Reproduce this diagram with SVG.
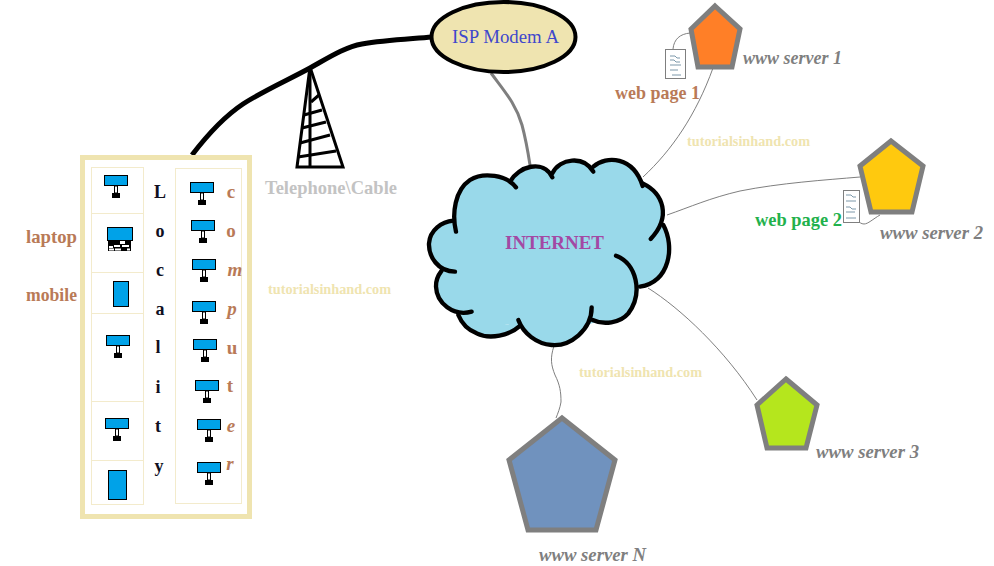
<svg xmlns="http://www.w3.org/2000/svg" xmlns:xlink="http://www.w3.org/1999/xlink" width="994" height="566" viewBox="0 0 994 566">
<style>
text{font-family:"Liberation Serif",serif;font-size:19px}
.br{fill:#b97a57;font-weight:bold}
.gr{fill:#7f7f7f;font-weight:bold;font-style:italic}
.wm{fill:#efe4b0;font-size:15px;font-weight:bold}
.loc{fill:#10101f;font-weight:bold;text-anchor:middle;font-size:18px}
.let{fill:#b97a57;font-weight:bold;text-anchor:middle;font-size:19px}
.it{font-style:italic}
.thin{fill:none;stroke:#7f7f7f;stroke-width:1}
.pent{stroke:#7f7f7f;stroke-width:5;stroke-linejoin:miter}
.cell{fill:#fff;stroke:#f3ebcc;stroke-width:1}
.blue{fill:#00a2e8;stroke:#000;stroke-width:1}
.cl{fill:none;stroke:#000;stroke-width:13;stroke-linecap:round}
.doc{fill:#fff;stroke:#7f7f7f;stroke-width:1}
.sq{fill:none;stroke:#5b7f95;stroke-width:.8}
</style>
<defs>
<g id="pc">
<rect class="blue" x="0.5" y="0.5" width="23" height="10"/>
<rect x="10.5" y="11" width="3" height="7" fill="#fff" stroke="#000"/>
<rect x="8" y="18" width="8" height="5" fill="#000"/>
</g>
</defs>
<rect width="994" height="566" fill="#fff"/>

<g id="connectors">
<path d="M192,155C205,138 222,118 243,104C263,91 290,79 310,68C328,58 345,47 362,44C385,40 410,39 432,37" fill="none" stroke="#000" stroke-width="5"/>
<path d="M491,73C505,92 516,104 522,125C526,140 528,152 530,165" fill="none" stroke="#7f7f7f" stroke-width="3"/>
<path class="thin" d="M643,177C672,150 696,115 713,68"/>
<path class="thin" d="M690,33C680,34 674,39 673,49"/>
<path class="thin" d="M667,215C690,207 710,198 740,191C780,183 825,180 860,177"/>
<path class="thin" d="M880,215C873,219 868,224 864,224C861,224 860,222 858,222"/>
<path class="thin" d="M648,288C680,308 725,350 757,400"/>
<path class="thin" d="M554,346C550,358 551,365 555,375C560,385 561,392 561,402C560,408 558,413 556,418"/>
</g>

<g id="locality">
<rect x="82.500" y="157.500" width="167" height="359" fill="#fff" stroke="#efe4b0" stroke-width="5"/>
<rect class="cell" x="91.500" y="167.500" width="52" height="337"/>
<path d="M91.500,213.500H143.500M91.500,272.500H143.500M91.500,313.500H143.500M91.500,401.500H143.500M91.500,460.500H143.500" stroke="#f3ebcc" fill="none"/>
<rect class="cell" x="175.500" y="168.500" width="66" height="335"/>
<use xlink:href="#pc" href="#pc" x="104" y="175"/>
<use xlink:href="#pc" href="#pc" x="106" y="335"/>
<use xlink:href="#pc" href="#pc" x="105" y="418"/>
<use xlink:href="#pc" href="#pc" x="190" y="182"/>
<use xlink:href="#pc" href="#pc" x="191" y="220"/>
<use xlink:href="#pc" href="#pc" x="192" y="259"/>
<use xlink:href="#pc" href="#pc" x="192" y="301"/>
<use xlink:href="#pc" href="#pc" x="193" y="339"/>
<use xlink:href="#pc" href="#pc" x="195" y="380"/>
<use xlink:href="#pc" href="#pc" x="197" y="419"/>
<use xlink:href="#pc" href="#pc" x="197" y="462"/>
<g id="laptop-icon">
<rect class="blue" x="107.500" y="227.500" width="25" height="13"/>
<rect x="108" y="241" width="23" height="10" fill="#000"/>
<rect x="120" y="241" width="5" height="3" fill="#fff"/>
<rect x="109" y="246" width="4" height="2" fill="#fff"/>
<rect x="114" y="245" width="6" height="2" fill="#fff"/>
<rect x="109" y="248.500" width="5" height="2" fill="#fff"/>
<rect x="115" y="248.500" width="6" height="2" fill="#fff"/>
<rect x="122" y="245" width="7" height="2" fill="#fff"/>
<rect x="127" y="248.500" width="3" height="2" fill="#fff"/>
</g>
<rect class="blue" x="113.500" y="281.500" width="15" height="25"/>
<rect class="blue" x="108.500" y="470.500" width="18" height="29"/>
<text class="loc" x="160" y="198">L</text>
<text class="loc" x="160" y="237">o</text>
<text class="loc" x="160" y="276">c</text>
<text class="loc" x="160" y="315">a</text>
<text class="loc" x="158" y="353">l</text>
<text class="loc" x="158" y="393">i</text>
<text class="loc" x="158" y="432">t</text>
<text class="loc" x="159" y="472">y</text>
<text class="let" x="231" y="198">c</text>
<text class="let" x="231" y="237">o</text>
<text class="let it" x="235" y="276">m</text>
<text class="let it" x="232" y="315">p</text>
<text class="let" x="232" y="354">u</text>
<text class="let" x="230" y="392">t</text>
<text class="let it" x="231" y="432">e</text>
<text class="let it" x="230" y="470">r</text>
</g>
<text class="br" x="26" y="243" textLength="51" lengthAdjust="spacingAndGlyphs">laptop</text>
<text class="br" x="26" y="301" textLength="51" lengthAdjust="spacingAndGlyphs">mobile</text>

<g id="tower" fill="none" stroke="#000" stroke-width="3">
<path d="M310,67L297,167H343Z"/>
<path d="M310,67V167"/>
<path d="M298,157L336,151M300,143L330,135M302,128L326,122M304,115L322,110M311,102L319,95"/>
<text x="265" y="194" fill="#c3c3c3" stroke="none" font-weight="bold" textLength="132" lengthAdjust="spacingAndGlyphs">Telephone\Cable</text>
</g>

<g id="modem">
<ellipse cx="503.500" cy="37" rx="72" ry="35" fill="#efe4b0" stroke="#000" stroke-width="4"/>
<text x="452" y="43" fill="#3f48cc" textLength="107" lengthAdjust="spacingAndGlyphs">ISP Modem A</text>
</g>

<g id="internet">
<g transform="translate(420,150) scale(.33333)">
<path fill="#99d9ea" d="M108,245C95,190 105,120 150,90C190,65 260,75 288,112ZM270,95C295,50 370,25 397,82ZM397,70C420,25 490,15 520,65ZM520,50C560,15 640,20 668,108ZM668,100C730,130 755,200 692,267ZM730,225C765,290 750,395 660,410ZM588,317C650,340 670,430 625,490C600,520 550,525 518,510ZM515,472C515,540 450,590 395,585C350,582 310,550 295,510ZM297,530C270,555 210,570 170,550C145,540 125,520 115,495ZM155,485C100,500 50,460 48,410C47,390 55,375 65,362ZM105,365C55,365 25,320 27,280C30,240 65,215 100,212ZM100,212L270,95L397,70L520,50L668,100L730,225L660,410L620,500L515,520L395,585L297,530L115,495L65,362Z"/>
<path class="cl" d="M108,245C95,190 105,120 150,90C190,65 260,75 288,112"/>
<path class="cl" d="M270,95C295,50 370,25 397,82"/>
<path class="cl" d="M397,70C420,25 490,15 520,65"/>
<path class="cl" d="M520,50C560,15 640,20 668,108"/>
<path class="cl" d="M668,100C730,130 755,200 692,267"/>
<path class="cl" d="M730,225C765,290 750,395 660,410"/>
<path class="cl" d="M588,317C650,340 670,430 625,490C600,520 550,525 518,510"/>
<path class="cl" d="M515,472C515,540 450,590 395,585C350,582 310,550 295,510"/>
<path class="cl" d="M297,530C270,555 210,570 170,550C145,540 125,520 115,495"/>
<path class="cl" d="M155,485C100,500 50,460 48,410C47,390 55,375 65,362"/>
<path class="cl" d="M105,365C55,365 25,320 27,280C30,240 65,215 100,212"/>
</g>
<text x="505" y="249" fill="#a349a4" font-size="21" font-weight="bold" textLength="99" lengthAdjust="spacingAndGlyphs">INTERNET</text>
</g>

<g id="server1">
<polygon class="pent" fill="#ff7f27" points="715,6 740,29 732,67 698,67 691,29"/>
<text class="gr" x="743" y="64" textLength="99" lengthAdjust="spacingAndGlyphs">www server 1</text>
</g>
<g id="page1">
<rect class="doc" x="665.500" y="49.500" width="20" height="29"/>
<path class="sq" d="M670,56H675L677,58H680M670,60H674L676,62H680M670,65H681M670,70H678M672,75H681"/>
<text class="br" x="615" y="99" textLength="85" lengthAdjust="spacingAndGlyphs">web page 1</text>
</g>
<g id="server2">
<polygon class="pent" fill="#ffc90e" points="891,141 923,166 912,212 871,212 860,166"/>
<text class="gr" x="880" y="239" textLength="103" lengthAdjust="spacingAndGlyphs">www server 2</text>
</g>
<g id="page2">
<rect class="doc" x="843.500" y="190.500" width="16" height="32"/>
<path class="sq" d="M846,195H851L853,197H856M846,201H856M846,207H850L852,209H856M846,212H855M846,218H856"/>
<text x="755" y="226" fill="#22b14c" font-weight="bold" textLength="87" lengthAdjust="spacingAndGlyphs">web page 2</text>
</g>
<g id="server3">
<polygon class="pent" fill="#b5e61d" points="786,379 817,405 806,448 767,448 757,405"/>
<text class="gr" x="816" y="458" textLength="103" lengthAdjust="spacingAndGlyphs">www server 3</text>
</g>
<g id="serverN">
<polygon class="pent" fill="#7092be" points="562,418 615,460 596,530 528,530 509,460"/>
<text class="gr" x="539" y="561" textLength="107" lengthAdjust="spacingAndGlyphs">www server N</text>
</g>
<text class="wm" x="687" y="146" textLength="123" lengthAdjust="spacingAndGlyphs">tutorialsinhand.com</text>
<text class="wm" x="268" y="294" textLength="123" lengthAdjust="spacingAndGlyphs">tutorialsinhand.com</text>
<text class="wm" x="579" y="377" textLength="123" lengthAdjust="spacingAndGlyphs">tutorialsinhand.com</text>
</svg>
